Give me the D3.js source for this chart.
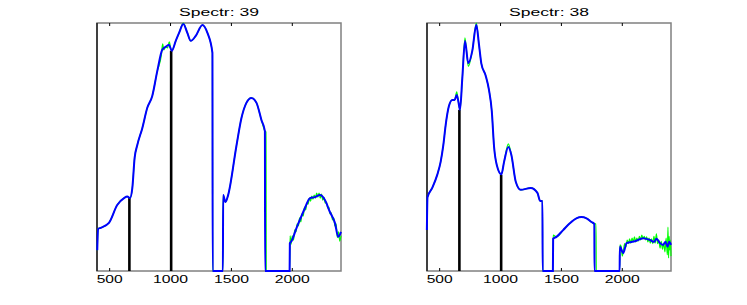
<!DOCTYPE html>
<html lang="en">
<head>
<meta charset="UTF-8">
<title>Spectr 39 / 38</title>
<script src="https://d3js.org/d3.v7.min.js"></script>
<style>
    body { margin: 0; background: #fff; }
    svg { display: block; }
    text { font-family: 'Liberation Sans', Arial, sans-serif; fill: #000; }
</style>
</head>
<body>
<div id="chart"></div>
<script>
    // wavelength axis
    const xTicks = [500, 1000, 1500, 2000];
    const bandWl = [662, 1005];

    // Spectr: 39 - smoothed (blue)
    const wl39 = [398, 405, 426, 494, 562, 618, 645, 667, 686, 705, 727, 768, 809, 850, 891, 932, 960, 987, 1010, 1043, 1070, 1105, 1138, 1166, 1207, 1262, 1303, 1344, 1346, 1430, 1432, 1451, 1473, 1541, 1582, 1623, 1664, 1706, 1747, 1775, 1777, 1978, 1980, 1993, 2035, 2062, 2104, 2145, 2186, 2227, 2268, 2309, 2350, 2377, 2400];
    const smooth39 = [0.042, 0.085, 0.087, 0.097, 0.133, 0.147, 0.150, 0.147, 0.167, 0.228, 0.254, 0.288, 0.329, 0.353, 0.403, 0.446, 0.452, 0.456, 0.444, 0.464, 0.480, 0.498, 0.480, 0.464, 0.474, 0.496, 0.480, 0.440, 0, 0, 0.153, 0.139, 0.153, 0.252, 0.308, 0.339, 0.349, 0.339, 0.304, 0.282, 0, 0, 0.056, 0.060, 0.087, 0.103, 0.127, 0.147, 0.149, 0.153, 0.143, 0.119, 0.097, 0.069, 0.079];
    // Spectr: 39 - raw (green)
    const rawWl39 = [398, 405, 426, 494, 562, 618, 645, 667, 686, 705, 727, 768, 809, 850, 891, 925, 935, 945, 960, 975, 990, 1000, 1010, 1043, 1070, 1105, 1138, 1166, 1207, 1262, 1303, 1344, 1346, 1430, 1432, 1451, 1473, 1541, 1582, 1623, 1664, 1706, 1747, 1775, 1784, 1786, 1978,
        1982, 1990, 2000, 2010, 2020, 2030, 2040, 2050, 2060, 2070, 2080, 2090, 2100, 2110, 2120, 2130, 2140, 2150, 2160, 2170, 2180, 2190, 2200, 2210, 2220, 2230, 2240, 2250, 2260, 2270, 2280, 2290, 2300, 2310, 2320, 2330, 2340, 2350, 2360, 2370, 2380, 2390, 2400];
    const raw39 = [0.042, 0.085, 0.087, 0.097, 0.133, 0.147, 0.150, 0.147, 0.167, 0.228, 0.254, 0.288, 0.329, 0.353, 0.403, 0.436, 0.458, 0.446, 0.452, 0.450, 0.462, 0.450, 0.444, 0.464, 0.480, 0.500, 0.480, 0.464, 0.474, 0.496, 0.480, 0.440, 0, 0, 0.153, 0.139, 0.153, 0.252, 0.308, 0.339, 0.349, 0.339, 0.304, 0.282, 0.280, 0, 0,
        0.071, 0.054, 0.071, 0.062, 0.083, 0.079, 0.095, 0.091, 0.107, 0.099, 0.115, 0.111, 0.129, 0.123, 0.137, 0.135, 0.147, 0.141, 0.151, 0.145, 0.153, 0.147, 0.157, 0.149, 0.157, 0.147, 0.155, 0.143, 0.149, 0.137, 0.139, 0.127, 0.129, 0.115, 0.117, 0.103, 0.107, 0.091, 0.095, 0.067, 0.079, 0.060, 0.071];
    const band39 = [0.147, 0.444];

    // Spectr: 38 - smoothed (blue)
    const wl38 = [395, 400, 439, 480, 508, 530, 549, 576, 604, 623, 640, 653, 667, 686, 708, 735, 768, 801, 823, 842, 878, 905, 928, 947, 969, 1007, 1029, 1064, 1089, 1125, 1166, 1248, 1303, 1325, 1344, 1346, 1430, 1432, 1459, 1514, 1569, 1623, 1664, 1706, 1747, 1770, 1772, 1978, 1980, 2008, 2035, 2104, 2172, 2227, 2262, 2281, 2309, 2336, 2355, 2372, 2385, 2400];
    const smooth38 = [0.066, 0.119, 0.134, 0.155, 0.176, 0.203, 0.235, 0.266, 0.276, 0.276, 0.284, 0.274, 0.260, 0.311, 0.371, 0.335, 0.355, 0.397, 0.365, 0.335, 0.315, 0.292, 0.258, 0.200, 0.171, 0.156, 0.176, 0.200, 0.187, 0.144, 0.131, 0.134, 0.126, 0.113, 0.113, 0, 0, 0.052, 0.055, 0.066, 0.077, 0.085, 0.087, 0.085, 0.079, 0.076, 0, 0, 0.039, 0.029, 0.045, 0.048, 0.053, 0.050, 0.047, 0.052, 0.045, 0.042, 0.047, 0.039, 0.047, 0.042];
    // Spectr: 38 - raw (green)
    const rawWl38 = [395, 400, 439, 480, 508, 530, 549, 576, 604, 623, 640, 653, 667, 686, 708, 735, 768, 801, 823, 842, 878, 905, 928, 947, 969, 1007, 1029, 1064, 1089, 1125, 1166, 1248, 1303, 1325, 1344, 1346, 1430, 1432, 1459, 1514, 1569, 1623, 1664, 1706, 1747, 1770, 1784, 1786, 1978,
        1981, 1990, 2000, 2010, 2020, 2030, 2040, 2050, 2060, 2070, 2080, 2090, 2100, 2110, 2120, 2130, 2140, 2150, 2160, 2170, 2180, 2190, 2200, 2210, 2220, 2230, 2240, 2250, 2260, 2270, 2280, 2290, 2300, 2310, 2320, 2330, 2340, 2350, 2360, 2370, 2375, 2380, 2385, 2390, 2395, 2400];
    const raw38 = [0.066, 0.119, 0.134, 0.155, 0.176, 0.203, 0.235, 0.266, 0.276, 0.276, 0.289, 0.274, 0.260, 0.311, 0.376, 0.330, 0.355, 0.400, 0.365, 0.335, 0.315, 0.292, 0.258, 0.200, 0.171, 0.156, 0.176, 0.205, 0.187, 0.144, 0.131, 0.134, 0.126, 0.113, 0.113, 0, 0, 0.058, 0.055, 0.066, 0.077, 0.085, 0.087, 0.085, 0.079, 0.076, 0.076, 0, 0,
        0.042, 0.040, 0.024, 0.034, 0.044, 0.039, 0.050, 0.044, 0.052, 0.045, 0.053, 0.047, 0.055, 0.047, 0.053, 0.048, 0.056, 0.050, 0.058, 0.052, 0.056, 0.050, 0.055, 0.047, 0.053, 0.045, 0.052, 0.044, 0.056, 0.045, 0.060, 0.044, 0.050, 0.037, 0.048, 0.035, 0.045, 0.031, 0.053, 0.026, 0.071, 0.021, 0.056, 0.034, 0.050, 0.024];
    const band38 = [0.260, 0.155];

    const width = 747, height = 305;
    const plotTop = 23, plotBottom = 271;

    const panels = [
        { title: "Spectr: 39", left: 97, right: 341, wl: wl39, smooth: smooth39, rawWl: rawWl39, raw: raw39, band: band39 },
        { title: "Spectr: 38", left: 427, right: 671, wl: wl38, smooth: smooth38, rawWl: rawWl38, raw: raw38, band: band38 }
    ];

    const svg = d3.select("#chart").append("svg")
        .attr("width", width)
        .attr("height", height);

    panels.forEach(p => {
        const x = d3.scaleLinear().domain([396, 2400]).range([p.left, p.right]);
        const y = d3.scaleLinear().domain([0, d3.max(p.raw)]).range([plotBottom, plotTop]);
        const g = svg.append("g");

        // frame
        g.append("rect")
            .attr("x", p.left).attr("y", plotTop)
            .attr("width", p.right - p.left).attr("height", plotBottom - plotTop)
            .attr("fill", "none").attr("stroke", "#808080").attr("stroke-width", 1.5);
        g.append("line")
            .attr("x1", p.left).attr("x2", p.left)
            .attr("y1", plotTop).attr("y2", plotBottom)
            .attr("stroke", "#000").attr("stroke-width", 1.2);

        // ticks inside, bottom and top
        xTicks.forEach(t => {
            g.append("line").attr("x1", x(t)).attr("x2", x(t))
                .attr("y1", plotBottom).attr("y2", plotBottom - 3)
                .attr("stroke", "#000").attr("stroke-width", 1);
            g.append("line").attr("x1", x(t)).attr("x2", x(t))
                .attr("y1", plotTop).attr("y2", plotTop + 3)
                .attr("stroke", "#000").attr("stroke-width", 1);
            const label = String(t);
            g.append("text")
                .attr("x", x(t)).attr("y", 283)
                .attr("text-anchor", "middle")
                .attr("font-size", 10)
                .attr("textLength", label.length * 9 - 1)
                .attr("lengthAdjust", "spacingAndGlyphs")
                .text(label);
        });

        // title
        g.append("text")
            .attr("x", (p.left + p.right) / 2).attr("y", 16)
            .attr("text-anchor", "middle")
            .attr("font-size", 10)
            .attr("textLength", 80)
            .attr("lengthAdjust", "spacingAndGlyphs")
            .text(p.title);

        const rawLine = d3.line()
            .x((d, i) => x(p.rawWl[i]))
            .y(d => y(d))
            .curve(d3.curveMonotoneX);
        const smoothLine = d3.line()
            .x((d, i) => x(p.wl[i]))
            .y(d => y(d))
            .curve(d3.curveMonotoneX);

        g.append("path")
            .attr("d", rawLine(p.raw))
            .attr("fill", "none").attr("stroke", "#00ff00").attr("stroke-width", 1.2);

        // band markers
        bandWl.forEach((w, i) => {
            g.append("line")
                .attr("x1", x(w)).attr("x2", x(w))
                .attr("y1", y(0)).attr("y2", y(p.band[i]))
                .attr("stroke", "#000").attr("stroke-width", 2.6);
        });

        g.append("path")
            .attr("d", smoothLine(p.smooth))
            .attr("fill", "none").attr("stroke", "#0000ff").attr("stroke-width", 2);
    });
</script>
</body>
</html>
